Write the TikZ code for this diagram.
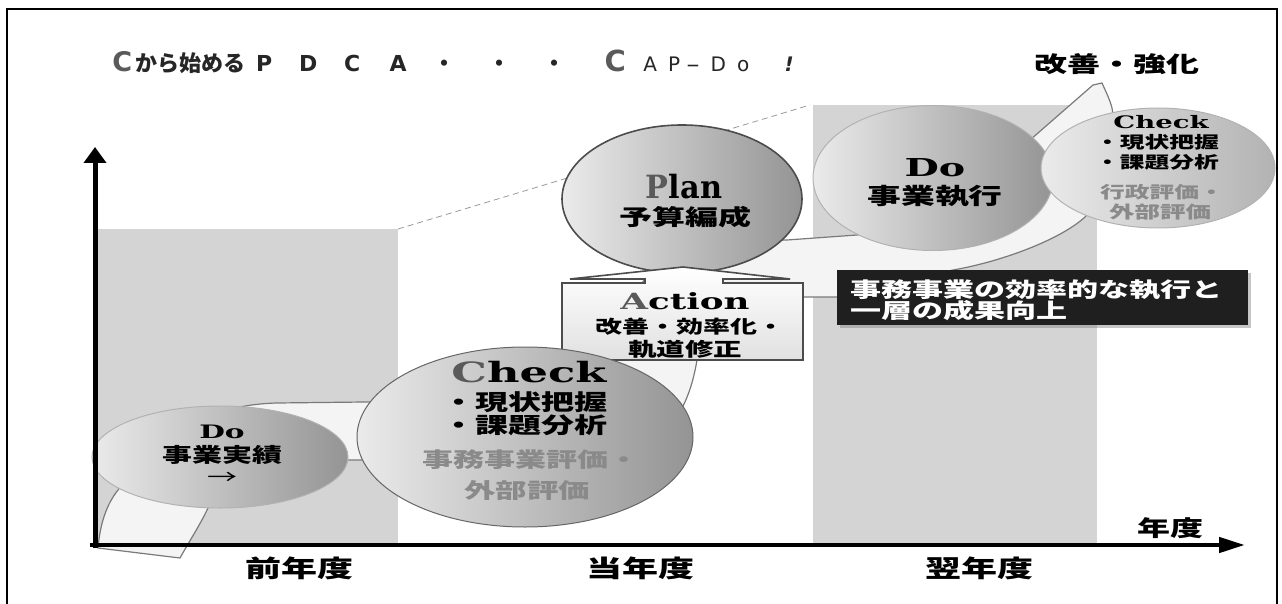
\documentclass[tikz,border=0pt]{standalone}
\usepackage{fontspec}
\usetikzlibrary{shapes.geometric,arrows.meta,shadows}
\newfontfamily\jp{Noto Sans CJK JP}[FakeStretch=1.5]
\newfontfamily\jpt{Noto Sans CJK JP}[FakeStretch=1.0]
\newfontfamily\hv{DejaVu Serif}[FakeStretch=1.6]
\newfontfamily\hvn{DejaVu Serif}[FakeStretch=0.95]
\newfontfamily\tls{DejaVu Sans}
\newcommand\fs[1]{\fontsize{#1pt}{#1pt}\selectfont}
\definecolor{rectgray}{HTML}{D4D4D4}
\definecolor{bandfill}{HTML}{F4F4F4}
\definecolor{bandline}{HTML}{7A7A7A}
\definecolor{txtgray}{HTML}{8A8A8A}
\definecolor{initgray}{HTML}{5A5A5A}
\begin{document}
\begin{tikzpicture}[x=1pt,y=-1pt,
  phase/.style={ellipse, draw=black!60, line width=1pt, inner sep=0pt, left color=#1, right color=black!42},
  phase/.default=black!8,
  lbl/.style={inner sep=0pt, anchor=center},
  jlbl/.style={lbl, font=\jp\bfseries\fs{#1}},
  hlbl/.style={lbl, font=\hv\bfseries\fs{#1}},
]
\useasboundingbox (0,0) rectangle (1282,604);
% frame
\draw[line width=2.5pt] (7,612) -- (7,9) -- (1277,9) -- (1277,612);
% year zones
\fill[rectgray] (98,229) rectangle (398,545);
\fill[rectgray] (813,105) rectangle (1097,545);
\coordinate (zoneA) at (398,229);
\coordinate (zoneC) at (810,105);
\draw[black!40, line width=0.8pt, dash pattern=on 6pt off 4pt] (zoneA) -- (zoneC);
% spiral band
\filldraw[fill=bandfill, draw=bandline, line width=1.2pt, line join=round]
 (98,548) .. controls (100,525) and (106,505) .. (118,490)
 .. controls (140,455) and (190,405) .. (277,403)
 -- (540,400)
 .. controls (600,398) and (615,385) .. (615,358)
 .. controls (615,300) and (650,255) .. (720,245)
 .. controls (750,241) and (770,240) .. (787,240)
 -- (857,235)
 .. controls (950,225) and (1000,170) .. (1030,140)
 -- (1093,85) -- (1102,83)
 .. controls (1106,92) and (1110,100) .. (1112,108)
 .. controls (1118,140) and (1105,195) .. (1085,217)
 .. controls (1060,240) and (1000,262) .. (953,270)
 .. controls (900,282) and (860,295) .. (837,297)
 -- (803,297)
 .. controls (740,300) and (705,325) .. (697,360)
 .. controls (692,390) and (680,430) .. (640,450)
 .. controls (600,460) and (500,460) .. (362,460)
 -- (347,460)
 .. controls (260,462) and (215,480) .. (208,508)
 .. controls (200,525) and (190,540) .. (180,558)
 -- cycle;
% plan
\node[phase, minimum width=240pt, minimum height=148pt, line width=1.6pt, draw=black!70] (plan) at (682,199) {};
% action box
\filldraw[top color=white, bottom color=black!12, draw=black!70, line width=1.6pt]
 (562,283) -- (645,283) -- (645,279) -- (570,279) -- (683,267) -- (790,279) -- (723,279) -- (723,283) -- (803,283) -- (803,360) -- (562,360) -- cycle;
\coordinate (action) at (683,322);
% check (current year)
\node[phase, minimum width=336pt, minimum height=180pt] (check) at (525,437) {};
% do (previous year)
\node[phase, minimum width=256pt, minimum height=102pt, draw=black!30] (do1) at (220,457) {};
% do (next year)
\node[phase, minimum width=240pt, minimum height=145pt, draw=black!30] (do2) at (933,178) {};
% check (next year)
\node[phase, minimum width=234pt, minimum height=120pt, draw=black!30, right color=black!30] (check2) at (1158,168) {};
% goal box
\node[fill=black!88, minimum width=411pt, minimum height=55pt, inner sep=0pt,
  drop shadow={shadow xshift=3pt, shadow yshift=-3pt, opacity=0.45}] (goal) at (1042.5,297.5) {};
% axes (on top)
\coordinate (origin) at (95,548);
\coordinate (ytop) at (95,147);
\coordinate (xstart) at (90,545);
\coordinate (xend) at (1245,545);
\draw[line width=5pt, -{Triangle[length=16pt,width=22pt]}] (origin) -- (ytop);
\draw[line width=4.5pt, -{Triangle[length=26pt,width=15pt]}] (xstart) -- (xend);

% ---------- texts ----------
\node[inner sep=0pt, anchor=base west, text=black!85] (title) at (122,72) {%
 \makebox[0pt]{\tls\bfseries\fs{27}\textcolor{initgray}{C}}\hspace{68pt}%
 \makebox[0pt]{\jpt\bfseries\fs{22}から始める}\hspace{74pt}%
 \makebox[0pt]{\tls\bfseries\fs{22}P}\hspace{44pt}%
 \makebox[0pt]{\tls\bfseries\fs{22}D}\hspace{44pt}%
 \makebox[0pt]{\tls\bfseries\fs{22}C}\hspace{46pt}%
 \makebox[0pt]{\tls\bfseries\fs{22}A}\hspace{46pt}%
 \makebox[0pt]{\jpt\bfseries\fs{22}・}\hspace{55pt}%
 \makebox[0pt]{\jpt\bfseries\fs{22}・}\hspace{55pt}%
 \makebox[0pt]{\jpt\bfseries\fs{22}・}\hspace{61pt}%
 \makebox[0pt]{\tls\bfseries\fs{29}\textcolor{initgray}{C}}\hspace{35pt}%
 \makebox[0pt]{\tls\fs{20}A}\hspace{24pt}%
 \makebox[0pt]{\tls\fs{20}P}\hspace{19pt}%
 \makebox[0pt]{\tls\fs{20}\scalebox{2}[1]{-}}\hspace{25pt}%
 \makebox[0pt]{\tls\fs{20}D}\hspace{25pt}%
 \makebox[0pt]{\tls\fs{20}o}\hspace{46pt}%
 \makebox[0pt]{\tls\itshape\bfseries\fs{20}!}};
\node[jlbl=22] (kaizen) at (1117,64) {改善・強化};
\node[jlbl=22] (xlabel) at (1170,528) {年度};
\node[jlbl=24] (prev) at (299,568) {前年度};
\node[jlbl=24] (curr) at (640,568) {当年度};
\node[jlbl=24] (next) at (979,568) {翌年度};
% do1
\node[hlbl=18.5] (do1a) at (222,432) {Do};
\node[jlbl=20] (do1b) at (222,455) {事業実績};
\node[lbl, font=\jp\fs{20}] (do1c) at (222,478) {→};
% check
\node[hlbl=28] (chka) at (529,372) {\textcolor{initgray}{C}heck};
\node[jlbl=22] (chkb) at (524.5,402) {・現状把握};
\node[jlbl=22] (chkc) at (524.5,425) {・課題分析};
\node[jlbl=20.7, text=txtgray] (chkd) at (531,460) {事務事業評価・};
\node[jlbl=21, text=txtgray] (chke) at (527,491) {外部評価};
% plan
\node[lbl, font=\hvn\bfseries\fs{32}] (plana) at (684,187) {\textcolor{initgray}{P}lan};
\node[jlbl=22] (planb) at (685,217) {予算編成};
% action
\node[hlbl=22.3] (acta) at (685,301) {\textcolor{initgray}{A}ction};
\node[jlbl=18] (actb) at (689.5,327) {改善・効率化・};
\node[jlbl=19] (actc) at (685,349) {軌道修正};
% do2
\node[hlbl=24.7] (do2a) at (935,168) {Do};
\node[jlbl=22.5] (do2b) at (935,196) {事業執行};
% check2
\node[hlbl=17.2] (chk2a) at (1161,122) {Check};
\node[jlbl=16.5] (chk2b) at (1157,142) {・現状把握};
\node[jlbl=16.5] (chk2c) at (1157,162) {・課題分析};
\node[jlbl=16.5, text=txtgray] (chk2d) at (1162,192) {行政評価・};
\node[jlbl=17, text=txtgray] (chk2e) at (1160,212) {外部評価};
% goal text
\node[jlbl=20.7, anchor=west, text=white] (goala) at (850,290) {事務事業の効率的な執行と};
\node[jlbl=20.7, anchor=west, text=white] (goalb) at (850,311) {一層の成果向上};
\end{tikzpicture}
\end{document}
